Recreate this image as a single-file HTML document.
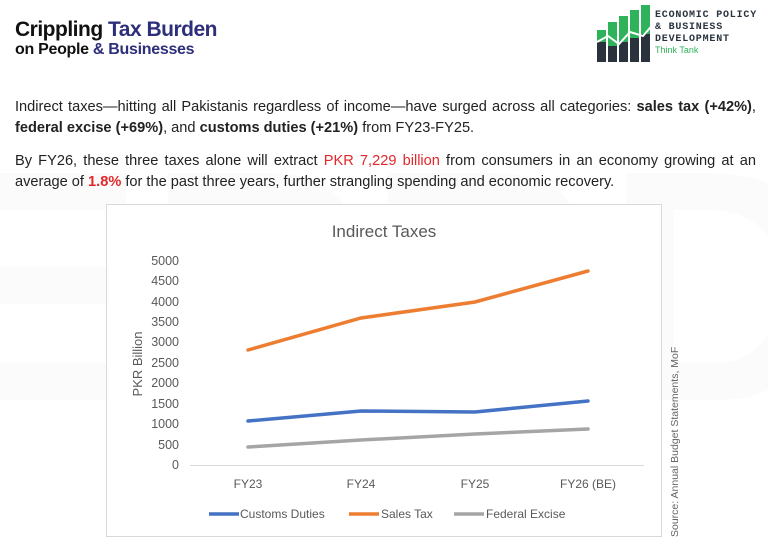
<!DOCTYPE html>
<html><head><meta charset="utf-8"><style>
html,body{margin:0;padding:0;background:#fff;}
body{width:768px;height:548px;position:relative;overflow:hidden;font-family:"Liberation Sans",sans-serif;}
.h1{position:absolute;left:15px;top:18px;font-size:21px;font-weight:bold;color:#111;letter-spacing:-0.5px;}
.h2{position:absolute;left:15px;top:41px;font-size:16px;font-weight:bold;color:#111;letter-spacing:-0.3px;}
.b{color:#2e2f7a;}
.p{position:absolute;left:15px;width:741px;font-size:14.6px;line-height:21px;color:#222;text-align:justify;text-align-last:left;}
.r{color:#e3262a;}
</style></head><body>
<svg width="768" height="548" style="position:absolute;left:0;top:0">
<text x="384" y="400" font-family="Liberation Sans" font-weight="bold" font-size="330" fill="#fbfbfb" text-anchor="middle">EPBD</text>
</svg>
<div class="h1">Crippling <span class="b">Tax Burden</span></div>
<div class="h2">on People <span class="b">&amp; Businesses</span></div>
<svg style="position:absolute;left:595px;top:2px" width="170" height="62">
<g fill="#2fb35a"><rect x="2" y="28" width="9" height="32"/><rect x="13" y="20" width="9" height="40"/><rect x="24" y="14" width="9" height="46"/><rect x="35" y="8" width="9" height="52"/><rect x="46" y="3" width="9" height="57"/></g>
<g fill="#2a333d"><rect x="2" y="40" width="9" height="20"/><rect x="13" y="44" width="9" height="16"/><rect x="24" y="40" width="9" height="20"/><rect x="35" y="36" width="9" height="24"/><rect x="46" y="32" width="9" height="28"/></g>
<polyline points="2,40 13,34 24,42 35,30 48,34 60,20" fill="none" stroke="#fff" stroke-width="2"/>
<text x="60" y="15" font-family="Liberation Mono" font-size="10" font-weight="bold" fill="#2a333d" letter-spacing="0.8">ECONOMIC POLICY</text>
<text x="60" y="27" font-family="Liberation Mono" font-size="10" font-weight="bold" fill="#2a333d" letter-spacing="0.8">&amp; BUSINESS</text>
<text x="60" y="39" font-family="Liberation Mono" font-size="10" font-weight="bold" fill="#2a333d" letter-spacing="0.8">DEVELOPMENT</text>
<text x="60" y="51" font-family="Liberation Sans" font-size="9" fill="#2fb35a">Think Tank</text>
</svg>
<div class="p" style="top:97px">Indirect taxes—hitting all Pakistanis regardless of income—have surged across all categories: <b>sales tax (+42%)</b>, <b>federal excise (+69%)</b>, and <b>customs duties (+21%)</b> from FY23-FY25.</div>
<div class="p" style="top:151px">By FY26, these three taxes alone will extract <span class="r">PKR 7,229 billion</span> from consumers in an economy growing at an average of <b class="r">1.8%</b> for the past three years, further strangling spending and economic recovery.</div>
<svg width="768" height="548" style="position:absolute;left:0;top:0">
<rect x="106.5" y="204.5" width="555" height="332" fill="#fff" stroke="#d9d9d9"/>
<text x="384" y="237" font-family="Liberation Sans" font-size="17" fill="#595959" text-anchor="middle">Indirect Taxes</text>
<g font-family="Liberation Sans" font-size="12.5" fill="#595959" text-anchor="end">
<text x="179" y="469">0</text><text x="179" y="449">500</text><text x="179" y="428">1000</text><text x="179" y="408">1500</text><text x="179" y="387">2000</text><text x="179" y="367">2500</text><text x="179" y="346">3000</text><text x="179" y="326">3500</text><text x="179" y="306">4000</text><text x="179" y="285">4500</text><text x="179" y="265">5000</text>
</g>
<text transform="translate(142,364) rotate(-90)" font-family="Liberation Sans" font-size="13" fill="#595959" text-anchor="middle">PKR Billion</text>
<line x1="190" y1="465.5" x2="644" y2="465.5" stroke="#d9d9d9"/>
<g font-family="Liberation Sans" font-size="12" fill="#595959" text-anchor="middle">
<text x="248" y="488">FY23</text><text x="361" y="488">FY24</text><text x="475" y="488">FY25</text><text x="588" y="488">FY26 (BE)</text>
</g>
<g fill="none" stroke-width="3.5" stroke-linecap="round">
<polyline points="248,350 361,318 475,302 588,271" stroke="#ed7d31"/>
<polyline points="248,421 361,411 475,412 588,401" stroke="#4472c4"/>
<polyline points="248,447 361,440 475,434 588,429" stroke="#a5a5a5"/>
</g>
<g font-family="Liberation Sans" font-size="12" fill="#595959">
<line x1="209" y1="514" x2="239" y2="514" stroke="#4472c4" stroke-width="3.5"/><text x="240" y="518">Customs Duties</text>
<line x1="349" y1="514" x2="379" y2="514" stroke="#ed7d31" stroke-width="3.5"/><text x="381" y="518">Sales Tax</text>
<line x1="454" y1="514" x2="484" y2="514" stroke="#a5a5a5" stroke-width="3.5"/><text x="486" y="518">Federal Excise</text>
</g>
<text transform="translate(678,537) rotate(-90)" font-family="Liberation Sans" font-size="10.5" fill="#666">Source: Annual Budget Statements, MoF</text>
</svg>
</body></html>
